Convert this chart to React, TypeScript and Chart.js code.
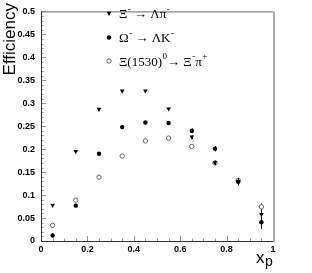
import React, { useEffect, useRef } from "react";
import { Chart, registerables } from "chart.js";

Chart.register(...registerables);

const xCenters = [0.05, 0.15, 0.25, 0.35, 0.45, 0.55, 0.65, 0.75, 0.85, 0.95];
const xiLambdaPi = [0.077, 0.194, 0.286, 0.326, 0.326, 0.287, 0.226, 0.17, 0.128, 0.057];
const xiLambdaPiErr = [0, 0, 0, 0, 0, 0, 0.004, 0.005, 0.007, 0.011];
const omegaLambdaK = [0.012, 0.077, 0.19, 0.248, 0.258, 0.257, 0.24, 0.201, 0.129, 0.041];
const omegaLambdaKErr = [0, 0, 0, 0, 0, 0, 0.005, 0.006, 0.008, 0.015];
const xi1530 = [0.034, 0.089, 0.139, 0.185, 0.218, 0.224, 0.206, 0.17, 0.132, 0.0745];
const xi1530Err = [0, 0, 0, 0, 0, 0, 0.003, 0.004, 0.006, 0.008];

const xTicks = [0, 0.2, 0.4, 0.6, 0.8, 1];
const yTicks = [0, 0.05, 0.1, 0.15, 0.2, 0.25, 0.3, 0.35, 0.4, 0.45, 0.5];

type Seg = { t: string; sup?: boolean };
const legendRows: { style: string; parts: Seg[] }[] = [
  { style: "tri", parts: [{ t: "Ξ" }, { t: "-", sup: true }, { t: " → Λπ" }, { t: "-", sup: true }] },
  { style: "dot", parts: [{ t: "Ω" }, { t: "-", sup: true }, { t: " → ΛK" }, { t: "-", sup: true }] },
  { style: "open", parts: [{ t: "Ξ(1530)" }, { t: "0", sup: true }, { t: "→ Ξ" }, { t: "-", sup: true }, { t: "π" }, { t: "+", sup: true }] },
];

const errors = [xiLambdaPiErr, omegaLambdaKErr, xi1530Err];
const styles = ["tri", "dot", "open"];

function drawMarker(ctx: CanvasRenderingContext2D, style: string, x: number, y: number) {
  ctx.save();
  if (style === "tri") {
    ctx.fillStyle = "#000";
    ctx.beginPath();
    ctx.moveTo(x - 2.3, y - 1.8);
    ctx.lineTo(x + 2.3, y - 1.8);
    ctx.lineTo(x, y + 2.4);
    ctx.closePath();
    ctx.fill();
  } else if (style === "dot") {
    ctx.fillStyle = "#000";
    ctx.beginPath();
    ctx.arc(x, y, 2.2, 0, Math.PI * 2);
    ctx.fill();
  } else {
    ctx.strokeStyle = "#555";
    ctx.lineWidth = 0.9;
    ctx.fillStyle = "#fff";
    ctx.beginPath();
    ctx.arc(x, y, 2.2, 0, Math.PI * 2);
    ctx.fill();
    ctx.stroke();
  }
  ctx.restore();
}

const decorPlugin = {
  id: "decor",
  beforeDatasetsDraw(chart: any) {
    const { ctx, chartArea } = chart;
    const xs = chart.scales.x;
    const ys = chart.scales.y;
    const { left, right, top, bottom } = chartArea;
    ctx.save();
    ctx.strokeStyle = "#999";
    ctx.lineWidth = 1;
    for (let i = 0; i <= 50; i++) {
      const v = i * 0.01;
      const y = Math.round(ys.getPixelForValue(v)) + 0.5;
      const len = i % 5 === 0 ? 5 : 2.5;
      ctx.beginPath();
      ctx.moveTo(left, y);
      ctx.lineTo(left + len, y);
      ctx.stroke();
    }
    for (let i = 0; i <= 20; i++) {
      const v = i * 0.05;
      const x = Math.round(xs.getPixelForValue(v)) + 0.5;
      const len = i % 4 === 0 ? 5 : 2.5;
      ctx.beginPath();
      ctx.moveTo(x, bottom);
      ctx.lineTo(x, bottom - len);
      ctx.stroke();
    }
    ctx.lineWidth = 1;
    ctx.strokeStyle = "#666";
    ctx.beginPath();
    ctx.moveTo(left, top + 0.5);
    ctx.lineTo(right, top + 0.5);
    ctx.stroke();
    ctx.strokeStyle = "#aaa";
    ctx.lineWidth = 2;
    ctx.beginPath();
    ctx.moveTo(right + 1, top);
    ctx.lineTo(right + 1, bottom + 1);
    ctx.stroke();
    ctx.strokeStyle = "#333";
    ctx.lineWidth = 1;
    ctx.beginPath();
    ctx.moveTo(left + 0.5, top);
    ctx.lineTo(left + 0.5, bottom + 0.5);
    ctx.lineTo(right, bottom + 0.5);
    ctx.stroke();
    ctx.restore();
  },
  afterDatasetsDraw(chart: any) {
    const { ctx } = chart;
    const xs = chart.scales.x;
    const ys = chart.scales.y;
    // draw open circles first, then dots, then triangles
    [2, 1, 0].forEach((di) => {
      const ds = chart.data.datasets[di];
      ctx.save();
      ctx.strokeStyle = di === 2 ? "#555" : "#000";
      ctx.lineWidth = 1;
      ds.data.forEach((p: any, i: number) => {
        const e = errors[di][i];
        if (e) {
          const x = Math.round(xs.getPixelForValue(p.x)) + 0.5;
          ctx.beginPath();
          ctx.moveTo(x, ys.getPixelForValue(p.y - e));
          ctx.lineTo(x, ys.getPixelForValue(p.y + e));
          ctx.stroke();
        }
      });
      ctx.restore();
      ds.data.forEach((p: any) => {
        drawMarker(ctx, styles[di], xs.getPixelForValue(p.x), ys.getPixelForValue(p.y));
      });
    });
    ctx.save();
    const rowY = [13.5, 37.5, 61];
    legendRows.forEach((row, r) => {
      drawMarker(ctx, row.style, 109, rowY[r]);
      let x = 119;
      ctx.fillStyle = "#000";
      ctx.textBaseline = "alphabetic";
      row.parts.forEach((seg) => {
        if (seg.sup) {
          ctx.font = "9px 'Liberation Serif'";
          ctx.fillText(seg.t, x + 0.5, rowY[r] - 2);
          x += ctx.measureText(seg.t).width + 0.5;
        } else {
          ctx.font = "13px 'Liberation Serif'";
          ctx.fillText(seg.t, x, rowY[r] + 4.5);
          x += ctx.measureText(seg.t).width;
        }
      });
    });
    ctx.fillStyle = "#000";
    ctx.save();
    ctx.translate(15, 3);
    ctx.rotate(-Math.PI / 2);
    ctx.font = "17px 'Liberation Sans'";
    ctx.textAlign = "right";
    ctx.textBaseline = "alphabetic";
    ctx.fillText("Efficiency", 0, 0);
    ctx.restore();
    ctx.font = "17px 'Liberation Sans'";
    ctx.textAlign = "left";
    ctx.fillText("x", 256, 262.5);
    ctx.font = "14px 'Liberation Sans'";
    ctx.fillText("p", 265, 266);
    ctx.restore();
  },
};

export default function App() {
  const ref = useRef<HTMLCanvasElement | null>(null);
  useEffect(() => {
    if (!ref.current) return;
    const mk = (vals: number[]) => xCenters.map((x, i) => ({ x, y: vals[i] }));
    const chart = new Chart(ref.current, {
      type: "scatter",
      data: {
        datasets: [
          { label: "Ξ⁻ → Λπ⁻", data: mk(xiLambdaPi), pointRadius: 0 },
          { label: "Ω⁻ → ΛK⁻", data: mk(omegaLambdaK), pointRadius: 0 },
          { label: "Ξ(1530)⁰ → Ξ⁻π⁺", data: mk(xi1530), pointRadius: 0 },
        ],
      },
      options: {
        animation: false,
        responsive: false,
        events: [],
        layout: { padding: { top: 4, right: 39, left: 0, bottom: 0 } },
        plugins: { legend: { display: false }, tooltip: { enabled: false } },
        scales: {
          x: {
            type: "linear",
            min: 0,
            max: 1,
            afterFit: (s: any) => { s.height = 32; },
            afterBuildTicks: (s: any) => { s.ticks = xTicks.map((v) => ({ value: v })); },
            ticks: {
              padding: 3,
              color: "#000",
              font: { family: "'Liberation Sans'", size: 9, weight: "bold" },
              callback: (v: any) => String(Number(Number(v).toFixed(2))),
              maxRotation: 0,
              autoSkip: false,
            },
            grid: { display: false, drawTicks: false },
            border: { display: false },
          },
          y: {
            type: "linear",
            min: 0,
            max: 0.5,
            afterFit: (s: any) => { s.width = 41; },
            afterBuildTicks: (s: any) => { s.ticks = yTicks.map((v) => ({ value: v })); },
            ticks: {
              padding: 6,
              color: "#000",
              font: { family: "'Liberation Sans'", size: 9, weight: "bold" },
              callback: (v: any) => String(Number(Number(v).toFixed(2))),
              autoSkip: false,
            },
            grid: { display: false, drawTicks: false },
            border: { display: false },
          },
        },
      },
      plugins: [decorPlugin],
    });
    return () => chart.destroy();
  }, []);
  return (
    <div style={{ position: "fixed", left: 0, top: 0, width: 312, height: 273, background: "#fff" }}>
      <canvas ref={ref} width={312} height={273} style={{ width: 312, height: 273, display: "block" }} />
    </div>
  );
}
